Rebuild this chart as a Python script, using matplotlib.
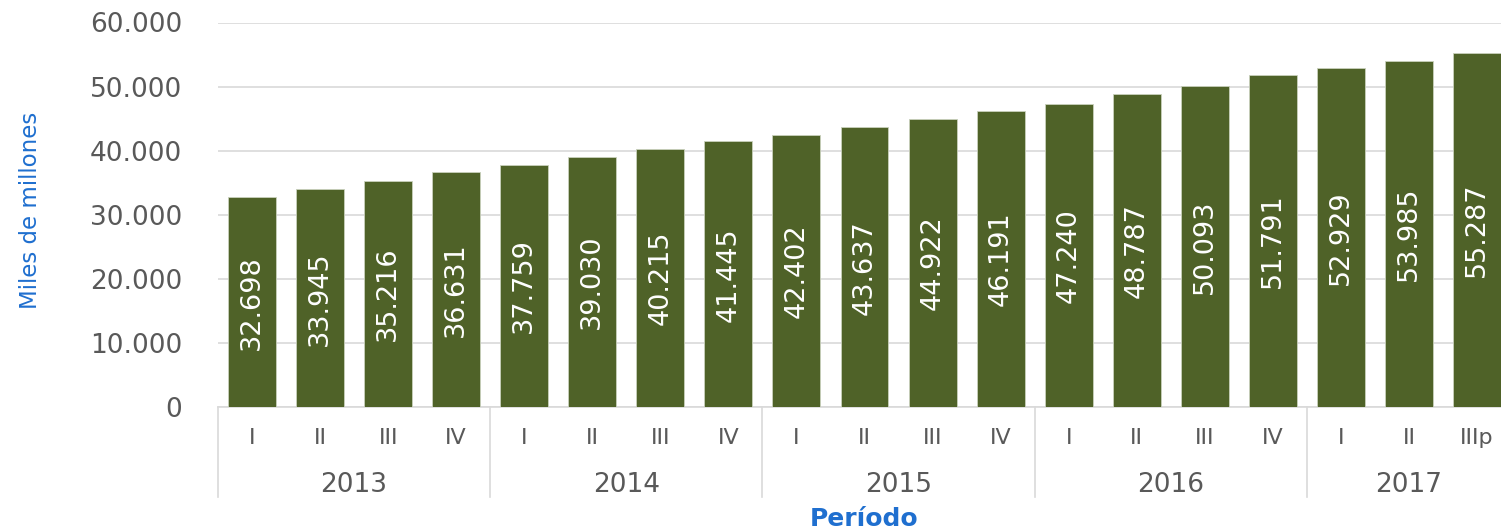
import matplotlib
matplotlib.use('Agg')
import matplotlib.pyplot as plt
import matplotlib.transforms as mtransforms
import numpy as np

# data
years = ['2013', '2014', '2015', '2016', '2017']
quarters_per_year = [4, 4, 4, 4, 3]
quarter_labels = ['I', 'II', 'III', 'IV',
                  'I', 'II', 'III', 'IV',
                  'I', 'II', 'III', 'IV',
                  'I', 'II', 'III', 'IV',
                  'I', 'II', 'IIIp']
values = [32698, 33945, 35216, 36631,
          37759, 39030, 40215, 41445,
          42402, 43637, 44922, 46191,
          47240, 48787, 50093, 51791,
          52929, 53985, 55287]
y_ticks = [0, 10000, 20000, 30000, 40000, 50000, 60000]

bar_color = '#4f6228'
grid_color = '#d9d9d9'
text_gray = '#595959'
blue = '#1f6fcf'

W, H = 1501, 531
fig = plt.figure(figsize=(W / 100, H / 100), dpi=100)
# plot area runs a bit past the right edge, as in the original
ax = fig.add_axes([218 / W, (H - 407) / H, (1511 - 218) / W, 384.5 / H])

x = np.arange(len(values))
bars = ax.bar(x, values, width=0.705, color=bar_color, edgecolor='#c9d1bc',
              linewidth=0.6, zorder=3)

# value labels inside the bars
for b, v in zip(bars, values):
    lbl = f'{v:,}'.replace(',', '.')
    ax.text(b.get_x() + b.get_width() / 2, v / 2, lbl, rotation=90,
            ha='center', va='center', color='white', fontsize=19.5,
            fontweight='medium', zorder=4)

ax.set_xlim(-0.5, len(values) - 0.5)
ax.set_ylim(0, 60000)
ax.set_yticks(y_ticks)
ax.set_yticklabels([f'{t:,}'.replace(',', '.') for t in y_ticks])
ax.tick_params(axis='y', length=0, pad=26, labelsize=19, labelcolor=text_gray)
ax.set_xticks([])
ax.yaxis.grid(True, color=grid_color, linewidth=1.2, zorder=0)
for s in ['top', 'right', 'left']:
    ax.spines[s].set_visible(False)
ax.spines['bottom'].set_color(grid_color)
ax.spines['bottom'].set_linewidth(1.2)

# two-level category axis
trans = mtransforms.blended_transform_factory(ax.transData, ax.transAxes)
for xi, q in zip(x, quarter_labels):
    ax.text(xi, -0.081, q, transform=trans, ha='center', va='center',
            fontsize=16, color=text_gray, clip_on=False)

start = 0
bounds = [-0.5]
for yr, n in zip(years, quarters_per_year):
    mid = start + (n - 1) / 2
    ax.text(mid, -0.203, yr, transform=trans, ha='center', va='center',
            fontsize=19, color=text_gray, clip_on=False)
    start += n
    bounds.append(start - 0.5)
for bx in bounds[:-1]:
    ax.plot([bx, bx], [0, -0.234], transform=trans, color=grid_color,
            linewidth=1.2, clip_on=False)

fig.text(31 / W, (H - 210) / H, 'Miles de millones', rotation=90,
         ha='center', va='center', color=blue, fontsize=16.5)
fig.text(864 / W, (H - 519) / H, 'Período', ha='center', va='center',
         color=blue, fontsize=18, fontweight='bold')

fig.savefig('out.png', dpi=100)
